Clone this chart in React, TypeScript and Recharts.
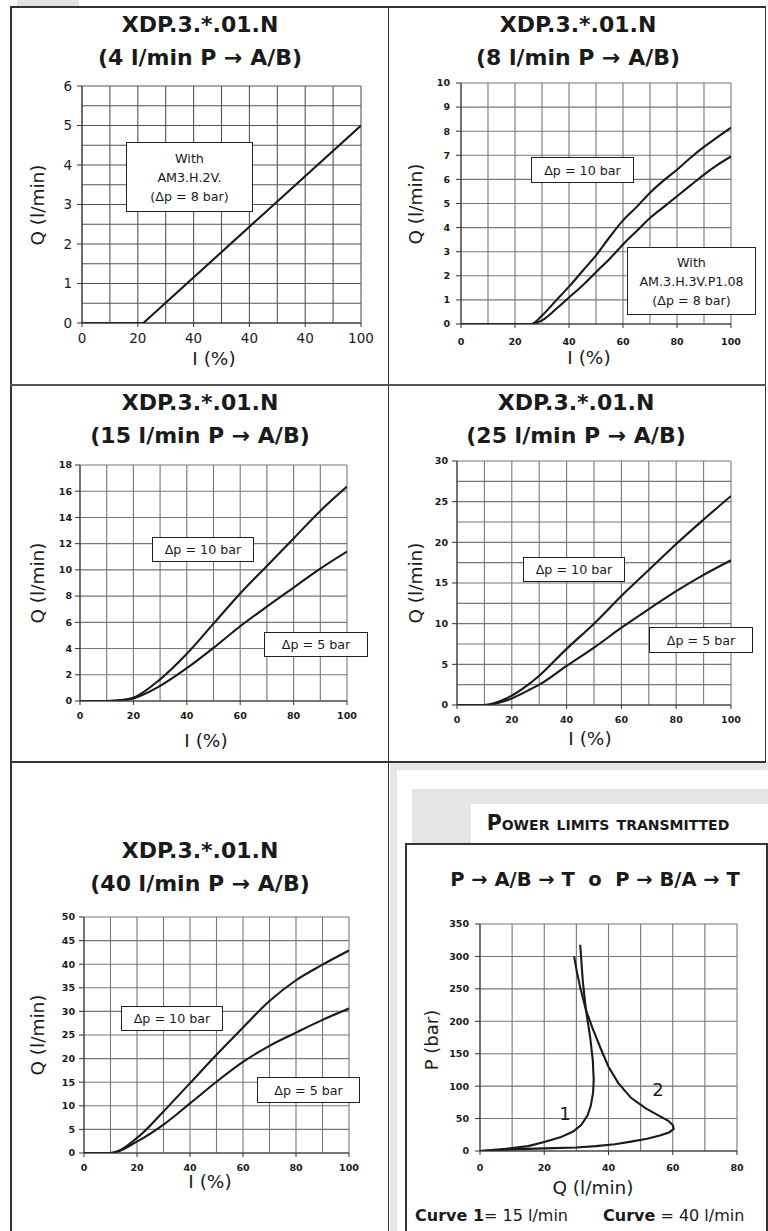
import React from 'react';
import { LineChart, Line, XAxis, YAxis, CartesianGrid } from 'recharts';

// XDP.3.*.01.N  4 l/min
const p1Current = [0, 22, 100];
const p1Flow = [0, 0, 5];
const p1XTickLabels = ['0', '20', '40', '40', '40', '100']; // as printed in the original sheet

// 8 l/min
const p2Current = [0, 26, 30, 35, 40, 45, 50, 55, 60, 65, 70, 75, 80, 85, 90, 95, 100];
const p2FlowDp10 = [0, 0, 0.35, 0.95, 1.55, 2.2, 2.85, 3.6, 4.3, 4.85, 5.45, 5.95, 6.4, 6.9, 7.35, 7.75, 8.15];
const p2FlowDp8 = [0, 0, 0.15, 0.6, 1.1, 1.6, 2.15, 2.7, 3.3, 3.85, 4.4, 4.85, 5.3, 5.75, 6.2, 6.6, 6.95];

// 15 l/min
const p3Current = [0, 10, 15, 20, 30, 40, 50, 60, 70, 80, 90, 100];
const p3FlowDp10 = [0, 0, 0.05, 0.25, 1.65, 3.6, 5.9, 8.2, 10.3, 12.4, 14.5, 16.35];
const p3FlowDp5 = [0, 0, 0.05, 0.2, 1.15, 2.5, 4.05, 5.7, 7.2, 8.65, 10.1, 11.4];

// 25 l/min
const p4Current = [0, 10, 18, 26, 30, 40, 50, 60, 70, 80, 90, 100];
const p4FlowDp10 = [0, 0, 0.8, 2.5, 3.6, 6.9, 10, 13.4, 16.6, 19.8, 22.8, 25.7];
const p4FlowDp5 = [0, 0, 0.55, 1.8, 2.5, 4.8, 7.05, 9.5, 11.8, 14, 16, 17.8];

// 40 l/min
const p5Current = [0, 10, 20, 30, 40, 50, 60, 70, 80, 90, 100];
const p5FlowDp10 = [0, 0, 3.2, 8.8, 14.8, 20.8, 26.6, 32.2, 36.6, 39.9, 42.9];
const p5FlowDp5 = [0, 0, 2.4, 6, 10.5, 15.1, 19.3, 22.7, 25.5, 28.2, 30.6];

// power limits
const curve1Q = [0, 8, 15, 20, 25, 29, 31.5, 33.5, 34.5, 35.2, 35.4, 35.1, 34.3, 33, 32, 31.2];
const curve1P = [0, 3.5, 7.5, 14, 21, 30, 40, 55, 70, 90, 110, 140, 175, 217, 262, 318];
const curve2Q = [0, 10, 20, 30, 36, 42, 47, 52, 56, 59, 60.3, 60, 58.5, 55.5, 51.5, 47, 43, 40, 37.4, 35, 33, 31.3, 30.2, 29.3];
const curve2P = [0, 2.5, 4, 5.5, 7.5, 10.5, 14.5, 19, 24, 29, 34, 40, 47, 55, 66, 82, 105, 130, 160, 190, 217, 250, 275, 300];

const range = (a: number, b: number, step: number) => {
  const out: number[] = [];
  for (let v = a; v <= b + 1e-9; v += step) out.push(Math.round(v * 1000) / 1000);
  return out;
};

const pctTicks = [0, 20, 40, 60, 80, 100];
const pctGrid = range(0, 100, 10);

const FONT = '"DejaVu Sans", sans-serif';
const INK = '#1a1a1a';

type Rect = { x: number; y: number; w: number; h: number };
type Series = { key: string; data?: any[]; type?: any };

const L = 60, T = 12, R = 14, B = 40;

function Plot(props: {
  rect: Rect;
  data?: any[];
  xKey: string;
  xDomain: number[];
  yDomain: number[];
  xTicks: number[];
  yTicks: number[];
  xGrid: number[];
  yGrid: number[];
  xFmt?: (v: any, i: number) => string;
  boldTicks?: boolean;
  tickSize?: number;
  xGap: number;
  yGap: number;
  series: Series[];
  gridColor?: string;
}) {
  const { rect } = props;
  const tick = {
    fontFamily: FONT,
    fontSize: props.tickSize ?? 9.5,
    fontWeight: props.boldTicks ? 700 : 400,
    fill: INK,
  };
  return (
    <div style={{ position: 'absolute', left: rect.x - L, top: rect.y - T, zIndex: 1 }}>
      <LineChart
        width={rect.w + L + R}
        height={rect.h + T + B}
        data={props.data}
        margin={{ top: T, right: R, bottom: 0, left: 0 }}
      >
        <CartesianGrid
          stroke={props.gridColor ?? '#777'}
          strokeWidth={1.1}
          horizontalValues={props.yGrid}
          verticalValues={props.xGrid}
        />
        <XAxis
          type="number"
          dataKey={props.xKey}
          domain={props.xDomain}
          ticks={props.xTicks}
          interval={0}
          height={B}
          allowDataOverflow
          tickFormatter={props.xFmt}
          tick={tick}
          tickSize={4}
          tickMargin={props.xGap}
          stroke="#333"
        />
        <YAxis
          type="number"
          domain={props.yDomain}
          ticks={props.yTicks}
          interval={0}
          width={L}
          allowDataOverflow
          tick={tick}
          tickSize={5}
          tickMargin={props.yGap}
          stroke="#333"
        />
        {props.series.map((s) => (
          <Line
            key={s.key}
            data={s.data}
            dataKey={s.key}
            type={s.type ?? 'monotone'}
            stroke={INK}
            strokeWidth={2.1}
            dot={false}
            isAnimationActive={false}
          />
        ))}
      </LineChart>
    </div>
  );
}

function Txt(props: {
  x: number;
  y: number;
  size: number;
  bold?: boolean;
  rotate?: boolean;
  smallCaps?: boolean;
  children: React.ReactNode;
}) {
  return (
    <div
      style={{
        position: 'absolute',
        left: props.x,
        top: props.y,
        transform: `translate(-50%, -50%)${props.rotate ? ' rotate(-90deg)' : ''}`,
        fontSize: props.size,
        fontWeight: props.bold ? 700 : 400,
        fontVariant: props.smallCaps ? 'small-caps' : 'normal',
        whiteSpace: 'pre',
        lineHeight: 1,
        color: INK,
        zIndex: 3,
      }}
    >
      {props.children}
    </div>
  );
}

function Box(props: { x1: number; y1: number; x2: number; y2: number; lines: string[]; size?: number }) {
  return (
    <div
      style={{
        position: 'absolute',
        left: props.x1,
        top: props.y1,
        width: props.x2 - props.x1,
        height: props.y2 - props.y1,
        boxSizing: 'border-box',
        border: '1.5px solid #222',
        background: '#fff',
        display: 'flex',
        flexDirection: 'column',
        justifyContent: 'center',
        alignItems: 'center',
        fontSize: props.size ?? 12.7,
        lineHeight: '19px',
        color: INK,
        zIndex: 4,
      }}
    >
      {props.lines.map((l) => (
        <div key={l}>{l}</div>
      ))}
    </div>
  );
}

function Rule(props: { x: number; y: number; w: number; h: number; color?: string; z?: number }) {
  return (
    <div
      style={{
        position: 'absolute',
        left: props.x,
        top: props.y,
        width: props.w,
        height: props.h,
        background: props.color ?? '#333',
        zIndex: props.z ?? 2,
      }}
    />
  );
}

function Title(props: { cx: number; y1: number; flow: string }) {
  return (
    <>
      <Txt x={props.cx} y={props.y1} size={22} bold>
        XDP.3.*.01.N
      </Txt>
      <Txt x={props.cx} y={props.y1 + 33} size={22} bold>
        {`(${props.flow} l/min P \u2192 A/B)`}
      </Txt>
    </>
  );
}

const rows = (xs: number[], a: number[], b?: number[]) =>
  xs.map((x, i) => (b ? { i: x, hi: a[i], lo: b[i] } : { i: x, hi: a[i] }));

const pts = (qs: number[], ps: number[], key: string) => qs.map((q, i) => ({ q, [key]: ps[i] }));

export default function App() {
  const curve1 = pts(curve1Q, curve1P, 'c1');
  const curve2 = pts(curve2Q, curve2P, 'c2');

  return (
    <div
      style={{
        position: 'absolute',
        left: 0,
        top: 0,
        width: 768,
        height: 1231,
        background: '#fff',
        overflow: 'hidden',
        fontFamily: FONT,
      }}
    >
      {/* frames */}
      <Rule x={17} y={0} w={62} h={6} color="#e2e2e2" z={0} />
      <Rule x={390} y={762} w={378} h={469} color="#e6e6e6" z={0} />
      <Rule x={397} y={770} w={371} h={461} color="#fff" z={0} />
      <Rule x={412} y={789} w={356} h={54} color="#e6e6e6" z={0} />
      <Rule x={471} y={804} w={297} h={39} color="#fff" z={0} />
      <Rule x={10} y={6} w={756} h={1.8} />
      <Rule x={10} y={6} w={1.8} h={1225} />
      <Rule x={764.5} y={6} w={1.8} h={757} />
      <Rule x={387.5} y={6} w={1.8} h={1225} />
      <Rule x={10} y={384} w={756} h={1.8} color="#555" />
      <Rule x={10} y={761} w={756} h={1.8} />
      <Rule x={405} y={843} w={363} h={1.6} />
      <Rule x={405} y={843} w={1.6} h={388} />
      <Rule x={766} y={843} w={1.6} h={388} />

      {/* 4 l/min */}
      <Title cx={200} y1={25} flow="4" />
      <Plot
        rect={{ x: 82, y: 86, w: 279, h: 237 }}
        data={rows(p1Current, p1Flow)}
        xKey="i"
        xDomain={[0, 100]}
        yDomain={[0, 6]}
        xTicks={pctTicks}
        yTicks={[0, 1, 2, 3, 4, 5, 6]}
        xGrid={pctGrid}
        yGrid={range(0, 6, 0.5)}
        xFmt={(v, i) => p1XTickLabels[i] ?? String(v)}
        tickSize={13.5}
        xGap={6}
        yGap={5}
        gridColor="#555"
        series={[{ key: 'hi', type: 'linear' }]}
      />
      <Txt x={38} y={205} size={18.5} rotate>Q (l/min)</Txt>
      <Txt x={214} y={359} size={18.5}>I (%)</Txt>
      <Box x1={126} y1={142} x2={253} y2={212} lines={['With', 'AM3.H.2V.', '(\u0394p = 8 bar)']} />

      {/* 8 l/min */}
      <Title cx={578} y1={25} flow="8" />
      <Plot
        rect={{ x: 461, y: 83, w: 270, h: 241 }}
        data={rows(p2Current, p2FlowDp10, p2FlowDp8)}
        xKey="i"
        xDomain={[0, 100]}
        yDomain={[0, 10]}
        xTicks={pctTicks}
        yTicks={range(0, 10, 1)}
        xGrid={pctGrid}
        yGrid={range(0, 10, 1)}
        boldTicks
        xGap={10}
        yGap={6}
        series={[{ key: 'hi' }, { key: 'lo' }]}
      />
      <Txt x={589} y={358} size={18.5}>I (%)</Txt>
      <Txt x={416} y={204} size={18.5} rotate>Q (l/min)</Txt>
      <Box x1={531} y1={157} x2={634} y2={183} lines={['\u0394p = 10 bar']} />
      <Box x1={627} y1={247} x2={756} y2={315} lines={['With', 'AM.3.H.3V.P1.08', '(\u0394p = 8 bar)']} />

      {/* 15 l/min */}
      <Title cx={200} y1={403} flow="15" />
      <Plot
        rect={{ x: 80, y: 465, w: 267, h: 236 }}
        data={rows(p3Current, p3FlowDp10, p3FlowDp5)}
        xKey="i"
        xDomain={[0, 100]}
        yDomain={[0, 18]}
        xTicks={pctTicks}
        yTicks={range(0, 18, 2)}
        xGrid={pctGrid}
        yGrid={range(0, 18, 2)}
        boldTicks
        xGap={7}
        yGap={3}
        series={[{ key: 'hi' }, { key: 'lo' }]}
      />
      <Txt x={38} y={583} size={18.5} rotate>Q (l/min)</Txt>
      <Txt x={206} y={741} size={18.5}>I (%)</Txt>
      <Box x1={152} y1={537} x2={254} y2={562} lines={['\u0394p = 10 bar']} />
      <Box x1={264} y1={632} x2={368} y2={657} lines={['\u0394p = 5 bar']} />

      {/* 25 l/min */}
      <Title cx={576} y1={403} flow="25" />
      <Plot
        rect={{ x: 457, y: 461, w: 274, h: 244 }}
        data={rows(p4Current, p4FlowDp10, p4FlowDp5)}
        xKey="i"
        xDomain={[0, 100]}
        yDomain={[0, 30]}
        xTicks={pctTicks}
        yTicks={range(0, 30, 5)}
        xGrid={pctGrid}
        yGrid={range(0, 30, 2.5)}
        boldTicks
        xGap={7}
        yGap={4}
        series={[{ key: 'hi' }, { key: 'lo' }]}
      />
      <Txt x={416} y={583} size={18.5} rotate>Q (l/min)</Txt>
      <Txt x={590} y={739} size={18.5}>I (%)</Txt>
      <Box x1={523} y1={557} x2={625} y2={582} lines={['\u0394p = 10 bar']} />
      <Box x1={649} y1={627} x2={753} y2={653} lines={['\u0394p = 5 bar']} />

      {/* 40 l/min */}
      <Title cx={200} y1={851} flow="40" />
      <Plot
        rect={{ x: 84, y: 917, w: 265, h: 236 }}
        data={rows(p5Current, p5FlowDp10, p5FlowDp5)}
        xKey="i"
        xDomain={[0, 100]}
        yDomain={[0, 50]}
        xTicks={pctTicks}
        yTicks={range(0, 50, 5)}
        xGrid={pctGrid}
        yGrid={range(0, 50, 5)}
        boldTicks
        xGap={7}
        yGap={4}
        series={[{ key: 'hi' }, { key: 'lo' }]}
      />
      <Txt x={38} y={1035} size={18.5} rotate>Q (l/min)</Txt>
      <Txt x={210} y={1182} size={18.5}>I (%)</Txt>
      <Box x1={121} y1={1006} x2={223} y2={1031} lines={['\u0394p = 10 bar']} />
      <Box x1={257} y1={1077} x2={360} y2={1103} lines={['\u0394p = 5 bar']} />

      {/* power limits */}
      <Txt x={608} y={823} size={20.5} bold smallCaps>Power limits transmitted</Txt>
      <Txt x={595} y={880} size={19.5} bold>{'P \u2192 A/B \u2192 T  o  P \u2192 B/A \u2192 T'}</Txt>
      <Plot
        rect={{ x: 480, y: 924, w: 257, h: 227 }}
        xKey="q"
        xDomain={[0, 80]}
        yDomain={[0, 350]}
        xTicks={[0, 20, 40, 60, 80]}
        yTicks={range(0, 350, 50)}
        xGrid={range(0, 80, 10)}
        yGrid={range(0, 350, 50)}
        boldTicks
        xGap={9}
        yGap={6}
        series={[
          { key: 'c1', data: curve1, type: 'linear' },
          { key: 'c2', data: curve2, type: 'linear' },
        ]}
      />
      <Txt x={432} y={1040} size={18} rotate>P (bar)</Txt>
      <Txt x={593} y={1188} size={18.5}>Q (l/min)</Txt>
      <Txt x={565} y={1114} size={18}>1</Txt>
      <Txt x={658} y={1090} size={18}>2</Txt>
      <div
        style={{
          position: 'absolute',
          left: 415,
          top: 1207,
          fontSize: 16,
          whiteSpace: 'pre',
          color: INK,
          lineHeight: 1.1,
          zIndex: 3,
        }}
      >
        <b>Curve 1</b>= 15 l/min
      </div>
      <div
        style={{
          position: 'absolute',
          left: 603,
          top: 1207,
          fontSize: 16,
          whiteSpace: 'pre',
          color: INK,
          lineHeight: 1.1,
          zIndex: 3,
        }}
      >
        <b>Curve</b> = 40 l/min
      </div>
    </div>
  );
}
